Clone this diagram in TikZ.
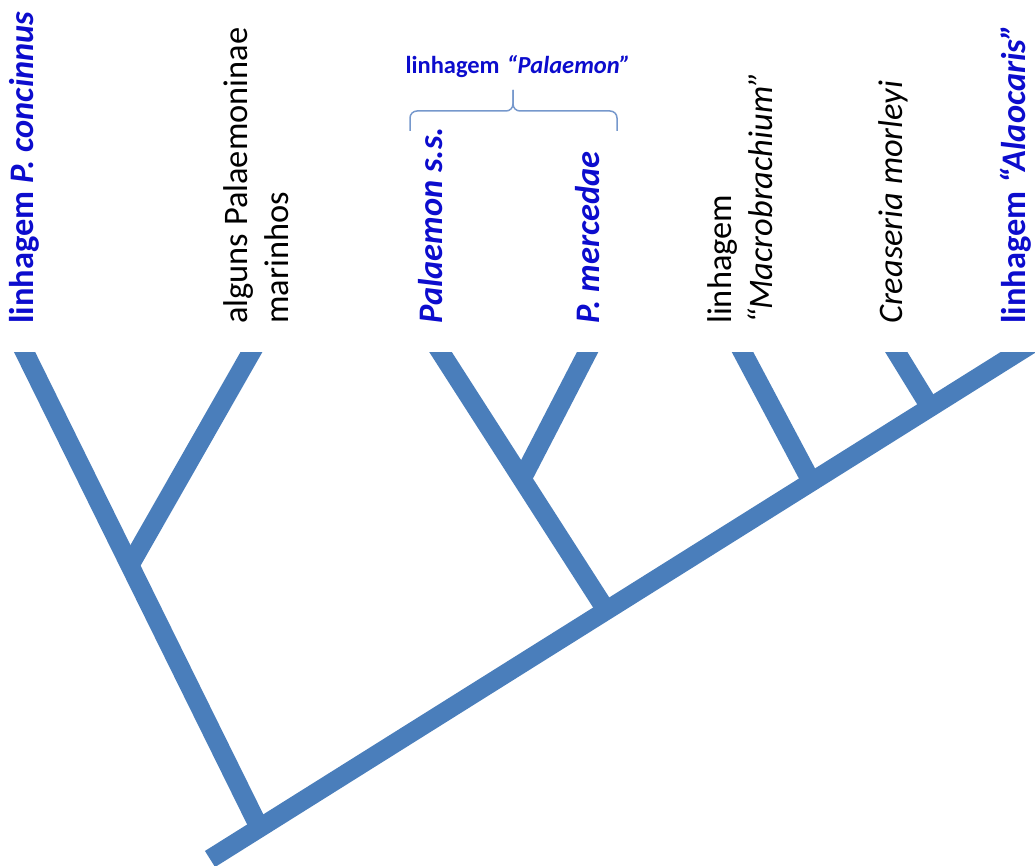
\documentclass[tikz,border=0pt]{standalone}
\usepackage{fontspec}
\setmainfont{Carlito}
\definecolor{ramo}{RGB}{74,126,187}
\definecolor{azul}{RGB}{12,12,205}
\definecolor{chave}{RGB}{118,152,204}

\begin{document}
\begin{tikzpicture}[x=1pt,y=-1pt,
  ramo/.style={draw=ramo,line width=19pt,line cap=butt},
  taxon/.style={rotate=90,anchor=west,inner sep=0pt,align=left,font=\fontsize{34.4}{41}\selectfont},
  destaque/.style={taxon,text=azul,font=\fontsize{34.4}{41}\selectfont\bfseries},
  chave/.style={draw=chave,line width=1.5pt,rounded corners=7pt}]

\useasboundingbox (0,0) rectangle (1035,866);

% terminais
\node[destaque] (conc)  at (24,324)   {linhagem \textit{P. concinnus}};
\node[taxon]    (mar)   at (256,324)  {alguns Palaemoninae\\marinhos};
\node[destaque] (pss)   at (431,324)  {\textit{Palaemon s.s.}};
\node[destaque] (pmer)  at (588,324)  {\textit{P. mercedae}};
\node[taxon]    (macro) at (740,324)  {linhagem\\\textit{“Macrobrachium”}};
\node[taxon]    (crea)  at (893,324)  {\textit{Creaseria morleyi}};
\node[destaque] (alao)  at (1016,324) {linhagem \textit{“Alaocaris”}};

% chave da linhagem Palaemon
\coordinate (chE) at (410,131);
\coordinate (chD) at (617,131);
\coordinate (chM) at (513,111);
\coordinate (chP) at (513,90);
\draw[chave] (chE) |- (chM) -- (chP);
\draw[chave] (chD) |- (chM) -- (chP);
\node[text=azul,font=\fontsize{24.5}{29}\selectfont\bfseries] (linpal) at (518,67)
  {linhagem\hspace{0.3em}\textit{“Palaemon”}};

% arvore
\begin{scope}
\clip (0,352) rectangle (1035,866);
\coordinate (base)   at (210,859);
\coordinate (topo)   at (1060,326);
\coordinate (raiz)   at (259,827);
\coordinate (nA)     at (130,565);
\coordinate (nB)     at (606,610);
\coordinate (nC)     at (522,479);
\coordinate (nD)     at (811,481);
\coordinate (nE)     at (930,407);
\coordinate (tConc)  at (13.7,330);
\coordinate (tMar)   at (264,330);
\coordinate (tPss)   at (426.4,330);
\coordinate (tPmer)  at (599,330);
\coordinate (tMacro) at (730.8,330);
\coordinate (tCrea)  at (882.7,330);

\path[ramo] (base) edge (topo)
  (raiz) edge (tConc)
  (nA)   edge (tMar)
  (nB)   edge (tPss)
  (nC)   edge (tPmer)
  (nD)   edge (tMacro)
  (nE)   edge (tCrea);
\end{scope}

\end{tikzpicture}
\end{document}
